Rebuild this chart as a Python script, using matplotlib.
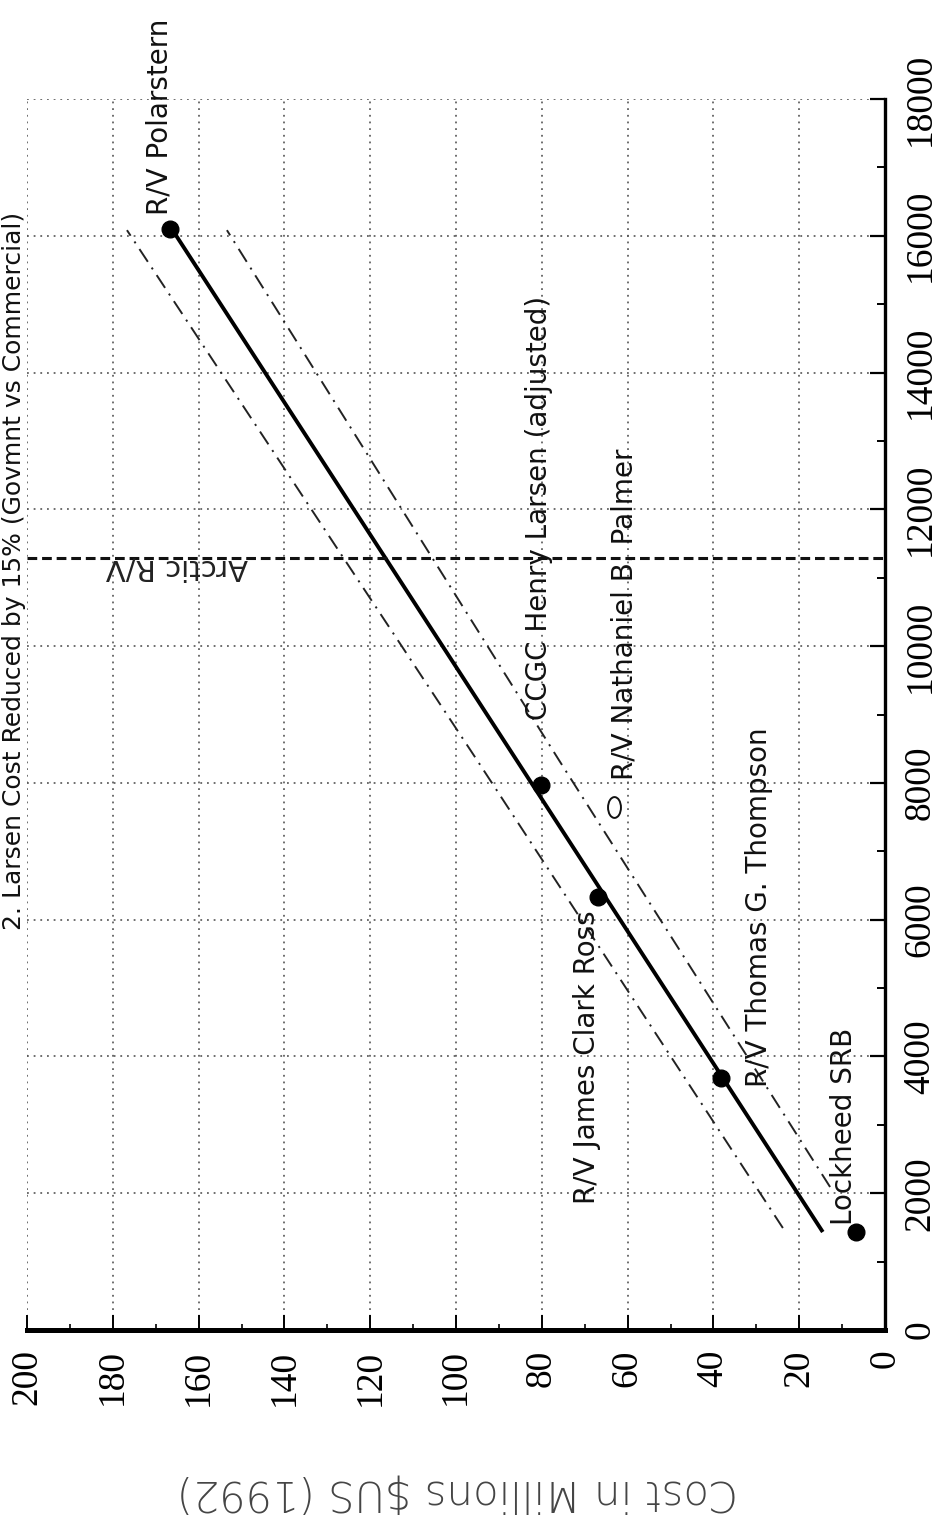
import matplotlib
matplotlib.use("Agg")
import matplotlib.pyplot as plt
from matplotlib.ticker import MultipleLocator
from matplotlib.transforms import blended_transform_factory, Affine2D
from matplotlib.path import Path

plt.rcParams['lines.scale_dashes'] = False

# ---------------- data ----------------
title = "2. Larsen Cost Reduced by 15% (Govmnt vs Commercial)"
cost_label = "Cost in Millions $US (1992)"

ship_names = ["R/V Polarstern", "CCGC Henry Larsen (adjusted)",
              "R/V James Clark Ross", "R/V Thomas G. Thompson", "Lockheed SRB"]
ship_size = [16096, 7968, 6330, 3684, 1433]
ship_cost = [166.7, 80.2, 66.9, 38.2, 6.8]

palmer_name = "R/V Nathaniel B. Palmer"
palmer_size = [7646]
palmer_cost = [63.2]

fit_size = [1433, 16096]
fit_cost = [14.5, 166.2]

band_upper_size = [1491, 8333, 16082]
band_upper_cost = [23.8, 95.1, 176.7]
band_lower_size = [2091, 8333, 16082]
band_lower_cost = [12.8, 76.0, 153.4]

arctic_name = "Arctic R/V"
arctic_size = 11290

cost_ticks = list(range(0, 201, 20))
size_ticks = list(range(0, 18001, 2000))

# ---------------- figure ----------------
W, H = 946, 1519
fig = plt.figure(figsize=(W / 100, H / 100), dpi=100)
ax = fig.add_axes([27 / W, 1 - 1330 / H, 858 / W, 1231 / H])

ax.set_xlim(200, 0)
ax.set_ylim(0, 18000)

sans = "DejaVu Sans"
serif = "Liberation Serif"

# grid
ax.set_xticks(cost_ticks)
ax.set_yticks(size_ticks)
ax.xaxis.set_minor_locator(MultipleLocator(10))
ax.yaxis.set_minor_locator(MultipleLocator(1000))
ax.grid(True, which='major', linestyle=(0, (1.3, 3.5)), color='#555555', linewidth=1.2)
ax.set_axisbelow(True)

# spines
for s in ['top', 'left']:
    ax.spines[s].set_visible(False)
ax.spines['bottom'].set_linewidth(3.6)
ax.spines['right'].set_linewidth(2.4)

ax.yaxis.tick_right()
ax.tick_params(axis='x', which='major', direction='in', length=10.5, width=1.4,
               pad=14, labelrotation=90, labelsize=27)
ax.tick_params(axis='x', which='minor', direction='in', length=4, width=1.2)
ax.tick_params(axis='y', which='major', direction='in', length=10.5, width=1.6,
               pad=13, labelrotation=90, labelsize=27, left=False, right=True)
ax.tick_params(axis='y', which='minor', direction='in', length=5.5, width=1.4,
               left=False, right=True)
for lbl in ax.get_xticklabels():
    lbl.set_fontfamily(serif)
for lbl in ax.get_yticklabels():
    lbl.set_fontfamily(serif)
    lbl.set_va('center')

# bands (dash-dot)
ax.plot(band_upper_cost, band_upper_size, color='#222222', lw=1.4,
        linestyle=(0, (11, 5, 1.5, 5)))
ax.plot(band_lower_cost, band_lower_size, color='#222222', lw=1.4,
        linestyle=(0, (11, 5, 1.5, 5)))

# regression line
ax.plot(fit_cost, fit_size, color='black', lw=2.8, solid_capstyle='butt')

# points
ax.plot(ship_cost, ship_size, 'o', color='black', ms=12, zorder=5)
oval = Path.unit_circle().transformed(Affine2D().scale(0.62, 1.0))
ax.plot(palmer_cost, palmer_size, marker=oval, linestyle='none', mfc='none',
        mec='#111111', mew=1.4, ms=15, zorder=5)

# R/V Arctic line
ax.axhline(arctic_size, color='#111111', lw=2.2, linestyle=(0, (7, 3.5)))
tr = blended_transform_factory(ax.transAxes, ax.transData)
ax.annotate(arctic_name, xy=(0.2576, arctic_size), xycoords=tr,
            xytext=(0, -1.5), textcoords='offset points',
            rotation=180, rotation_mode='anchor', ha='left', va='baseline',
            fontsize=21, family=sans, color='#222222')

# ship labels: (offset in points, anchor)
label_style = [((-2, 10), 'left'),
               ((4.3, 46.8), 'left'),
               ((-2, -9.4), 'right'),
               ((33, -6.5), 'left'),
               ((-3, 5), 'left')]
for name, c, s, (off, ha) in zip(ship_names, ship_cost, ship_size, label_style):
    ax.annotate(name, xy=(c, s), xytext=off, textcoords='offset points',
                rotation=90, rotation_mode='anchor', ha=ha, va='baseline',
                fontsize=20, family=sans, color='#111111', zorder=6)
ax.annotate(palmer_name, xy=(palmer_cost[0], palmer_size[0]), xytext=(13.7, 19.4),
            textcoords='offset points', rotation=90, rotation_mode='anchor',
            ha='left', va='baseline', fontsize=20, family=sans, color='#111111')

# title (partly off the page, as in the scan)
fig.text(21 / W, 1 - 930 / H, title, rotation=90, rotation_mode='anchor',
         ha='left', va='baseline', fontsize=18, family=sans, color='#111111')

# cost axis label (upside down)
fig.text(458 / W, 1 - 1480 / H, cost_label, rotation=180, rotation_mode='anchor',
         ha='center', va='baseline', fontsize=30, family=sans, color='#444444',
         fontweight='light')

fig.savefig("out.png", dpi=100)
